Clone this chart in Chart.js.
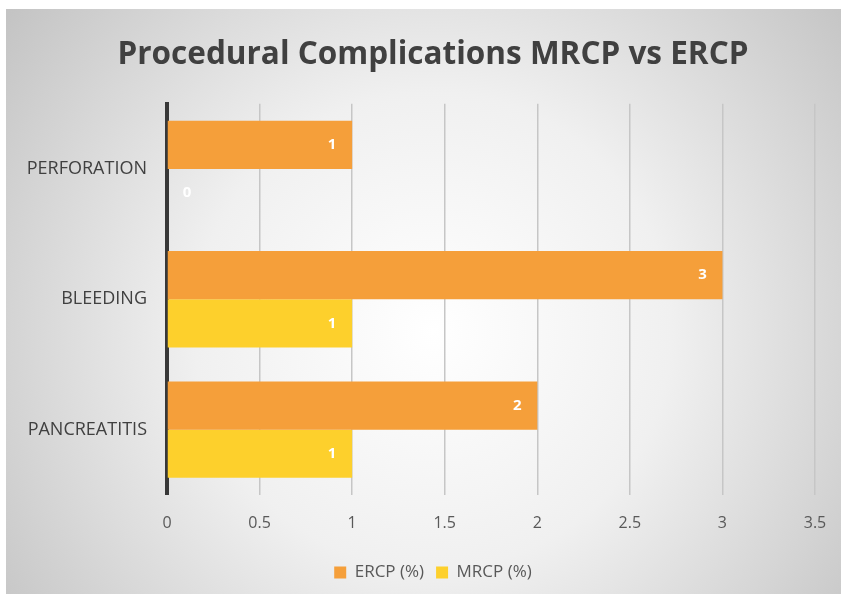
<!DOCTYPE html>
<html>
<head>
<meta charset="utf-8">
<script src="https://cdn.jsdelivr.net/npm/chart.js@4"></script>
<style>
  html, body { margin: 0; padding: 0; background: #fff; overflow: hidden; }
  #wrap { position: absolute; left: 6px; top: 9px; width: 854px; height: 585px; }
</style>
</head>
<body>
<div id="wrap"><canvas id="chart"></canvas></div>
<script>
// categories and series
const categories = ['PERFORATION', 'BLEEDING', 'PANCREATITIS'];
const ercpValues = [1, 3, 2];
const mrcpValues = [0, 1, 1];
const seriesNames = ['ERCP (%)', 'MRCP (%)'];

const FONT = "'Open Sans', sans-serif";

// grey radial backdrop like the office chart style
const backdropPlugin = {
    id: 'backdrop',
    beforeDraw: (chart) => {
        const ctx = chart.ctx;
        const w = chart.width, h = chart.height;
        const g = ctx.createRadialGradient(w * 0.5, h * 0.55, 0, w * 0.5, h * 0.55, w * 0.62);
        g.addColorStop(0, '#ffffff');
        g.addColorStop(0.45, '#f0f0f0');
        g.addColorStop(1, '#c4c4c4');
        ctx.save();
        ctx.fillStyle = g;
        ctx.fillRect(0, 0, w, h);
        ctx.restore();
    }
};

// white value labels at the inside end of every bar
const valueLabelPlugin = {
    id: 'valueLabels',
    afterDatasetsDraw: (chart) => {
        const ctx = chart.ctx;
        ctx.save();
        ctx.fillStyle = '#ffffff';
        ctx.font = "bold 15px " + FONT;
        ctx.textAlign = 'center';
        ctx.textBaseline = 'middle';
        chart.data.datasets.forEach((ds, di) => {
            const meta = chart.getDatasetMeta(di);
            meta.data.forEach((bar, i) => {
                const v = ds.data[i];
                const x = v > 0 ? bar.x - 20 : bar.base + 20;
                ctx.fillText(String(v), x, bar.y);
            });
        });
        ctx.restore();
    }
};

const ctx = document.getElementById('chart').getContext('2d');
new Chart(ctx, {
    type: 'bar',
    data: {
        labels: categories,
        datasets: [{
            label: seriesNames[0],
            data: ercpValues,
            backgroundColor: '#f59f3a',
            categoryPercentage: 0.74,
            barPercentage: 1.0
        }, {
            label: seriesNames[1],
            data: mrcpValues,
            backgroundColor: '#fdd02c',
            categoryPercentage: 0.74,
            barPercentage: 1.0
        }]
    },
    options: {
        indexAxis: 'y',
        responsive: true,
        maintainAspectRatio: false,
        animation: false,
        layout: { padding: { left: 0, right: 0, top: 0, bottom: 3 } },
        plugins: {
            title: {
                display: true,
                text: 'Procedural Complications MRCP vs ERCP',
                color: '#404040',
                font: { family: FONT, size: 31.5, weight: 'bold' },
                padding: { top: 27, bottom: 30 }
            },
            legend: {
                position: 'bottom',
                labels: {
                    color: '#595959',
                    font: { family: FONT, size: 17 },
                    boxWidth: 12,
                    boxHeight: 12,
                    padding: 12
                }
            },
            tooltip: { enabled: false }
        },
        scales: {
            x: {
                min: 0,
                max: 3.5,
                ticks: {
                    stepSize: 0.5,
                    color: '#595959',
                    font: { family: FONT, size: 16 },
                    padding: 19,
                    callback: v => String(Number(v.toFixed(1)))
                },
                grid: { color: '#c6c6c6', lineWidth: 1.5, drawTicks: false },
                border: { display: false }
            },
            y: {
                ticks: {
                    color: '#404040',
                    font: { family: FONT, size: 18 },
                    padding: 20
                },
                grid: { display: false, drawTicks: false },
                border: { display: true, color: '#383838', width: 4 },
                afterFit: (scale) => { scale.width = 161; }
            },
            // empty right-hand axis: only reserves the blank margin right of the plot
            yRight: {
                type: 'category',
                position: 'right',
                ticks: { display: false },
                grid: { display: false, drawTicks: false },
                border: { display: false },
                afterFit: (scale) => { scale.width = 45; }
            }
        }
    },
    plugins: [backdropPlugin, valueLabelPlugin]
});
</script>
</body>
</html>
